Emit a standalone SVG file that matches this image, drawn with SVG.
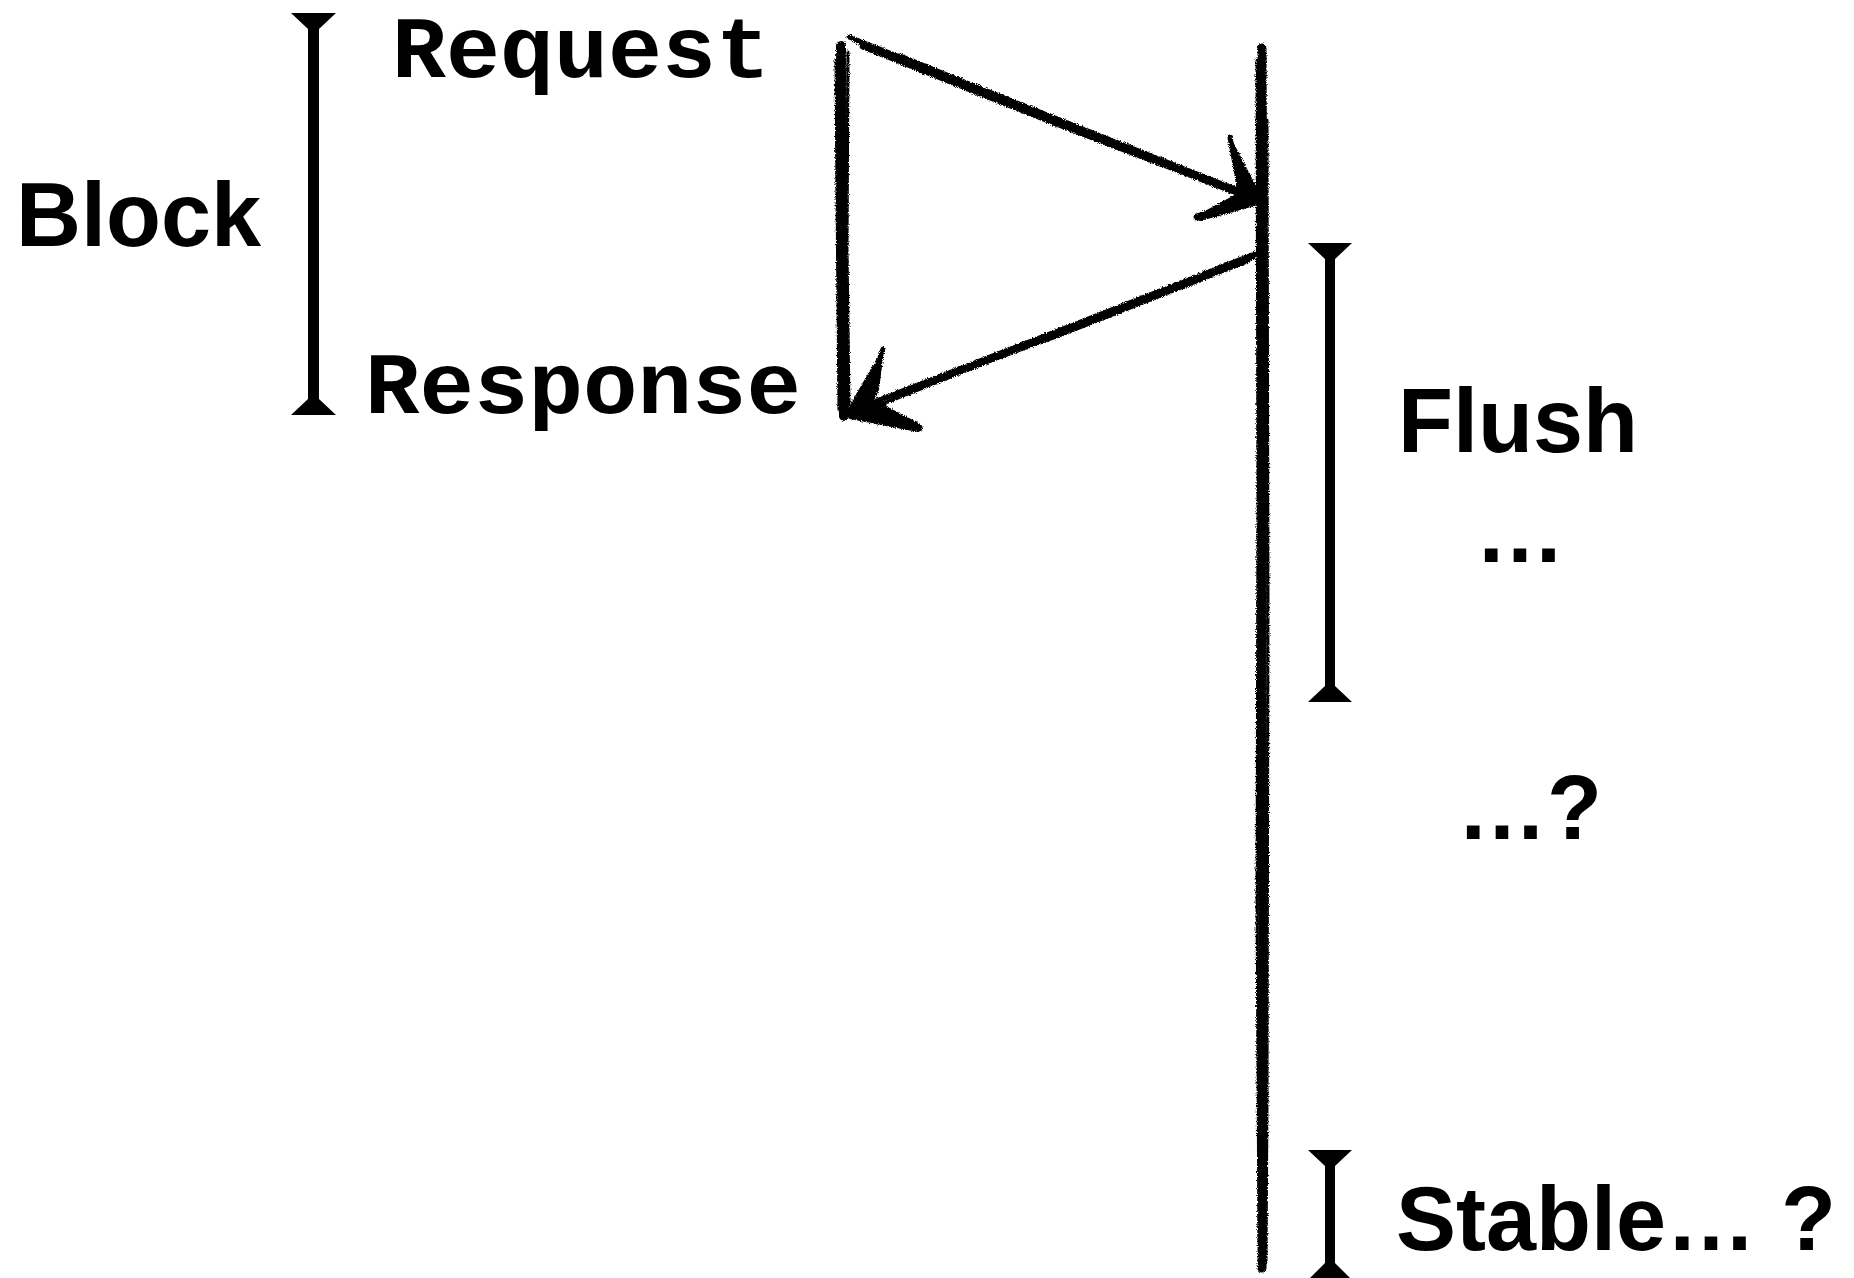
<svg xmlns="http://www.w3.org/2000/svg" width="1854" height="1278" viewBox="0 0 1854 1278">
  <defs>
    <style>
      .sans { font-family: "Liberation Sans", Arial, Helvetica, sans-serif; font-weight: bold; font-size: 90px; fill: #000; }
      .mono { font-family: "Liberation Mono", "Courier New", monospace; font-weight: bold; font-size: 88px; fill: #000; }
      .bracket { fill: #000; }
      .pen { fill: none; stroke: #000; stroke-linecap: round; stroke-linejoin: round; }
      .ink { fill: #000; stroke: #000; stroke-width: 2; stroke-linejoin: round; }
    </style>
    <!-- rough pencil edge -->
    <filter id="rough" filterUnits="userSpaceOnUse" x="0" y="0" width="1854" height="1278">
      <feTurbulence type="fractalNoise" baseFrequency="0.9" numOctaves="2" seed="7" result="noise"/>
      <feDisplacementMap in="SourceGraphic" in2="noise" scale="4" xChannelSelector="R" yChannelSelector="G"/>
    </filter>
  </defs>

  <rect width="1854" height="1278" fill="#fff"/>

  <!-- span brackets -->
  <g id="block-bracket">
    <path class="bracket" d="M291,13 L336,13 L319,29 L319,399 L336,415 L291,415 L308,399 L308,29 Z"/>
  </g>
  <g id="flush-bracket">
    <path class="bracket" d="M1308,243 L1352,243 L1335,259 L1335,686 L1352,702 L1308,702 L1325,686 L1325,259 Z"/>
  </g>
  <g id="stable-bracket">
    <path class="bracket" d="M1308,1150 L1352,1150 L1335,1166 L1335,1263 L1352,1280 L1308,1280 L1325,1263 L1325,1166 Z"/>
  </g>

  <!-- labels -->
  <g id="block-label"><text class="sans" x="16" y="246">Block</text></g>
  <g id="request-label"><text class="mono" x="392" y="77" textLength="378" lengthAdjust="spacingAndGlyphs">Request</text></g>
  <g id="response-label"><text class="mono" x="365" y="413" textLength="436" lengthAdjust="spacingAndGlyphs">Response</text></g>
  <g id="flush-label"><text class="sans" x="1518" y="452" text-anchor="middle">Flush</text></g>
  <g id="ellipsis-label"><text class="sans" x="1520" y="562" text-anchor="middle">…</text></g>
  <g id="maybe-label"><text class="sans" x="1457" y="839">…?</text></g>
  <g id="stable-label"><text class="sans" x="1396" y="1250">Stable… ?</text></g>

  <!-- hand-drawn timelines and messages -->
  <g id="connectors" filter="url(#rough)">
    <!-- client timeline -->
    <g id="client-line">
      <path class="pen" stroke-width="10" d="M841,46 L842,150 L843,300 L844,416"/>
      <path class="pen" stroke-width="3" d="M836,60 L837,200 L839,410"/>
      <path class="pen" stroke-width="3" d="M848,52 L847,250 L849,405"/>
    </g>
    <!-- server timeline -->
    <g id="server-line">
      <path class="pen" stroke-width="9" d="M1262,48 L1263,300 L1262,700 L1263,1000 L1262,1268"/>
      <path class="pen" stroke-width="3" d="M1257,60 L1258,500 L1257,900 L1259,1240"/>
      <path class="pen" stroke-width="3" d="M1267,120 L1268,600 L1267,1100 L1266,1262"/>
      <path class="pen" stroke-width="8" d="M1262,130 L1263,340"/>
    </g>
    <!-- request message -->
    <g id="request-arrow">
      <path class="pen" stroke-width="5" d="M849,37 L1050,116 L1248,194"/>
      <path class="pen" stroke-width="4.5" d="M862,47 L1050,122 L1238,194"/>
      <path class="pen" stroke-width="4" d="M855,41 L1060,123 L1252,198"/>
      <path class="pen" stroke-width="3" d="M900,55 L1080,128 L1230,188"/>
      <path class="ink" d="M1232,142 L1257,190 L1255,201 L1238,192 Z"/>
      <path class="pen" stroke-width="5" d="M1230,137 L1236,170 L1241,194"/>
      <path class="ink" d="M1196,217 L1235,196 L1257,198 L1258,204 L1200,220 Z"/>
      <path class="pen" stroke-width="7" d="M1197,217 L1256,201"/>
    </g>
    <!-- response message -->
    <g id="response-arrow">
      <path class="pen" stroke-width="5" d="M1257,253 L1060,330 L858,408"/>
      <path class="pen" stroke-width="4.5" d="M1248,261 L1060,335 L870,404"/>
      <path class="pen" stroke-width="4" d="M1254,257 L1050,337 L862,412"/>
      <path class="pen" stroke-width="3" d="M1220,270 L1060,332 L900,394"/>
      <path class="ink" d="M883,350 L878,390 L870,405 L848,412 L855,398 Z"/>
      <path class="pen" stroke-width="5" d="M883,349 L870,385 L850,411"/>
      <path class="ink" d="M848,410 L880,404 L920,425 L918,431 L850,418 Z"/>
      <path class="pen" stroke-width="7" d="M849,413 L919,428"/>
    </g>
  </g>
</svg>
